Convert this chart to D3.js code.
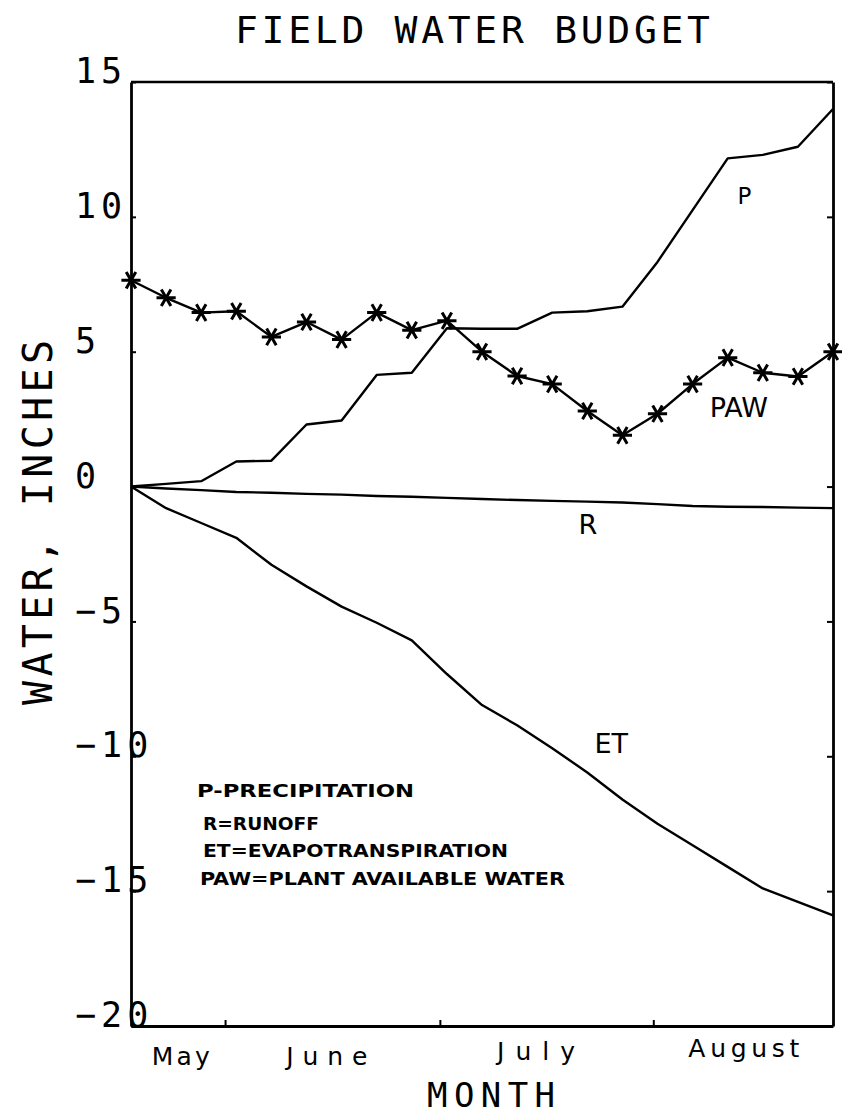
<!DOCTYPE html>
<html>
<head>
<meta charset="utf-8">
<script src="https://cdn.jsdelivr.net/npm/d3@7"></script>
<style>
body { margin: 0; background: #fff; }
</style>
</head>
<body>
<div id="chart-area"></div>
<script>
// pentad days from the start of the season (about May 18)
var days = [0, 5, 10, 15, 20, 25, 30, 35, 40, 45, 50, 55, 60, 65, 70, 75, 80, 85, 90, 95, 100];
var paw = [7.65, 7.0, 6.45, 6.5, 5.55, 6.1, 5.45, 6.45, 5.8, 6.15, 5.0, 4.1, 3.8, 2.8, 1.9, 2.7, 3.8, 4.78, 4.22, 4.08, 5.0];
var precip = [0, 0.1, 0.2, 0.93, 0.96, 2.3, 2.45, 4.14, 4.22, 5.87, 5.85, 5.85, 6.45, 6.5, 6.67, 8.33, 10.25, 12.17, 12.3, 12.6, 14.0];
var runoff = [0, -0.07, -0.13, -0.2, -0.23, -0.27, -0.3, -0.35, -0.38, -0.42, -0.46, -0.5, -0.53, -0.56, -0.59, -0.65, -0.72, -0.75, -0.76, -0.78, -0.8];
var et = [0, -0.8, -1.35, -1.9, -2.9, -3.7, -4.45, -5.05, -5.7, -6.95, -8.1, -8.85, -9.7, -10.6, -11.6, -12.5, -13.3, -14.1, -14.9, -15.4, -15.9];

var yTicks = [15, 10, 5, 0, -5, -10, -15, -20];
var monthTicks = [13.4, 44, 74.4];
var months = ["May", "June", "July", "August"];
var monthDays = [7.1, 27.9, 57.7, 87.3];

var seriesNames = ["P", "PAW", "R", "ET"];
var nameDays = [87.4, 86.6, 65.1, 68.4];
var nameValues = [10.48, 2.59, -1.74, -9.89];

var legendLines = ["P-PRECIPITATION", "R=RUNOFF", "ET=EVAPOTRANSPIRATION", "PAW=PLANT AVAILABLE WATER"];

var svg = d3.select("#chart-area").append("svg")
  .attr("width", 842)
  .attr("height", 1114)
  .style("background-color", "white");

var plotL = 131, plotR = 833, plotT = 82, plotB = 1026;

var x = d3.scaleLinear().domain([0, 100]).range([plotL, plotR]);
var y = d3.scaleLinear().domain([-20, 15]).range([plotB, plotT]);

var mono = "'DejaVu Sans Mono', 'Liberation Mono', monospace";

// title
svg.append("text")
  .attr("x", 235).attr("y", 43)
  .attr("textLength", 475)
  .attr("lengthAdjust", "spacing")
  .style("font-family", mono)
  .style("font-size", "38px")
  .text("FIELD WATER BUDGET");

// frame
svg.append("line")
  .attr("x1", plotL).attr("x2", plotR).attr("y1", plotT).attr("y2", plotT)
  .attr("stroke", "black").attr("stroke-width", 2.4);

var yAxis = svg.append("g")
  .attr("transform", "translate(" + plotL + ",0)")
  .call(d3.axisLeft(y).tickValues(yTicks).tickSize(-5).tickSizeOuter(0).tickFormat(d3.format("d")));

yAxis.selectAll("text")
  .attr("x", 75 - plotL)
  .attr("dy", "0.02em")
  .attr("text-anchor", "start")
  .style("font-family", mono)
  .style("font-size", "35px")
  .style("letter-spacing", "5px")
  .attr("fill", "black");

svg.append("g")
  .attr("transform", "translate(" + plotR + ",0)")
  .call(d3.axisRight(y).tickValues(yTicks).tickSize(-6).tickSizeOuter(0).tickFormat(""));

svg.append("g")
  .attr("transform", "translate(0," + plotB + ")")
  .call(d3.axisBottom(x).tickValues(monthTicks).tickSize(-6).tickSizeOuter(0).tickFormat(""));

svg.selectAll(".domain").attr("stroke", "black").attr("stroke-width", 2.8);
svg.selectAll(".tick line").attr("stroke", "black").attr("stroke-width", 2);

// month labels
svg.selectAll(".month")
  .data(months)
  .enter()
  .append("text")
  .attr("class", "month")
  .attr("x", (d, i) => x(monthDays[i]))
  .attr("y", (d, i) => [1065, 1065, 1060, 1057][i])
  .attr("text-anchor", "middle")
  .attr("textLength", (d, i) => [58, 81, 78, 111][i])
  .attr("lengthAdjust", "spacing")
  .style("font-family", "'DejaVu Sans', sans-serif")
  .style("font-size", "25px")
  .text((d) => d);

// axis titles
svg.append("text")
  .attr("x", 427).attr("y", 1107)
  .attr("textLength", 128)
  .attr("lengthAdjust", "spacing")
  .style("font-family", mono)
  .style("font-size", "34px")
  .text("MONTH");

svg.append("text")
  .attr("transform", "translate(52,705) rotate(-90)")
  .attr("textLength", 365)
  .attr("lengthAdjust", "spacing")
  .style("font-family", mono)
  .style("font-size", "40px")
  .text("WATER, INCHES");

// lines
var line = d3.line()
  .x((d, i) => x(days[i]))
  .y((d) => y(d));

[precip, runoff, et, paw].forEach((s) => {
  svg.append("path")
    .datum(s)
    .attr("d", line)
    .attr("fill", "none")
    .attr("stroke", "black")
    .attr("stroke-width", 2.4)
    .attr("stroke-linejoin", "round");
});

// asterisks on PAW
var star = d3.symbol().type(d3.symbolAsterisk).size(260);
svg.selectAll(".star")
  .data(paw)
  .enter()
  .append("path")
  .attr("class", "star")
  .attr("d", star)
  .attr("transform", (d, i) => "translate(" + x(days[i]) + "," + y(d) + ") rotate(90)")
  .attr("fill", "none")
  .attr("stroke", "black")
  .attr("stroke-width", 3);

// series names
svg.selectAll(".sname")
  .data(seriesNames)
  .enter()
  .append("text")
  .attr("class", "sname")
  .attr("x", (d, i) => x(nameDays[i]))
  .attr("y", (d, i) => y(nameValues[i]))
  .attr("text-anchor", "middle")
  .style("font-family", "'DejaVu Sans', sans-serif")
  .style("font-size", (d) => d == "P" ? "23px" : "27px")
  .text((d) => d);

// legend
svg.selectAll(".legend")
  .data(legendLines)
  .enter()
  .append("text")
  .attr("class", "legend")
  .attr("x", (d, i) => [197, 203, 203, 200][i])
  .attr("y", (d, i) => [797, 830, 857, 885][i])
  .attr("textLength", (d, i) => [217, 116, 305, 365][i])
  .attr("lengthAdjust", "spacingAndGlyphs")
  .style("font-family", "'DejaVu Sans Condensed', 'Liberation Sans Narrow', 'DejaVu Sans', sans-serif")
  .style("font-weight", "bold")
  .style("font-size", "17px")
  .text((d) => d);
</script>
</body>
</html>
